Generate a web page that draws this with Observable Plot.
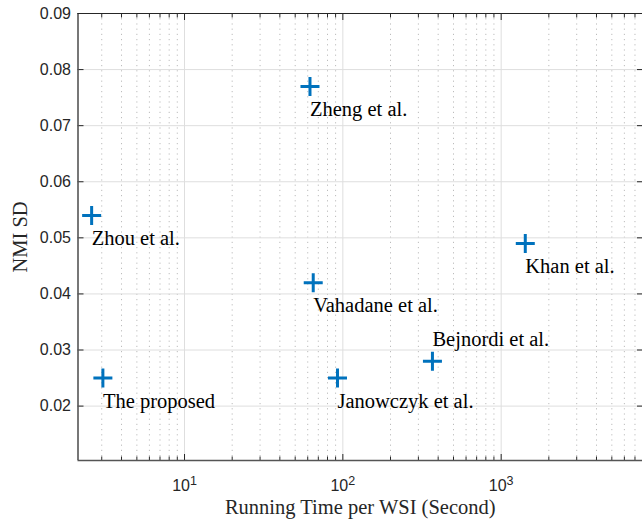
<!DOCTYPE html>
<html><head><meta charset="utf-8">
<script src="https://cdn.jsdelivr.net/npm/d3@7"></script>
<script src="https://cdn.jsdelivr.net/npm/@observablehq/plot@0.6"></script>
<style>body{margin:0;background:#fff}</style>
</head><body><div id="chart"></div>
<script>
const methods = ["Zhou et al.", "The proposed", "Zheng et al.", "Vahadane et al.", "Janowczyk et al.", "Bejnordi et al.", "Khan et al."];
const runningTime = [2.59, 3.05, 62, 65, 92.5, 368, 1420];
const nmiSD = [0.054, 0.025, 0.077, 0.042, 0.025, 0.028, 0.049];
const xTicks = [10, 100, 1000];
const xTickLabels = ["10^1", "10^2", "10^3"];
const yTicks = [0.02, 0.03, 0.04, 0.05, 0.06, 0.07, 0.08, 0.09];
const xTitle = "Running Time per WSI (Second)";
const yTitle = "NMI SD";

const data = methods.map((m, i) => ({name: m, t: runningTime[i], sd: nmiSD[i]}));
const labelAbove = new Set(["Bejnordi et al."]);
const xDomain = [2.124, 7810];
const minorTicks = [];
for (const p of [1, 10, 100, 1000]) for (let k = 2; k <= 9; k++) {
  const v = k * p; if (v > xDomain[0] && v < xDomain[1]) minorTicks.push(v);
}
const plusSymbol = {draw(ctx, size) { const r = Math.sqrt(size / Math.PI); ctx.moveTo(-r, 0); ctx.lineTo(r, 0); ctx.moveTo(0, -r); ctx.lineTo(0, r); }};
const sans = "Liberation Sans, Arial, sans-serif";
const serif = "Liberation Serif, Times New Roman, serif";
const axisCol = "#262626";

const chart = Plot.plot({
  width: 642, height: 520,
  marginLeft: 77.5, marginRight: 0, marginTop: 13, marginBottom: 60,
  x: {type: "log", domain: xDomain, label: null},
  y: {domain: [0.0103, 0.09], label: null},
  style: {fontFamily: sans, background: "#fff"},
  marks: [
    Plot.gridX(minorTicks, {stroke: "#bcbcbc", strokeOpacity: 1, strokeDasharray: "1.2,4"}),
    Plot.gridX(xTicks, {stroke: "#dedede", strokeOpacity: 1}),
    Plot.gridY(yTicks, {stroke: "#dedede", strokeOpacity: 1}),
    Plot.axisX(xTicks, {anchor: "bottom", label: null, tickSize: -6, tickFormat: () => "", stroke: axisCol}),
    Plot.axisX(xTicks, {anchor: "top", label: null, tickSize: -6, tickFormat: () => "", stroke: axisCol}),
    Plot.axisX(minorTicks, {anchor: "bottom", label: null, tickSize: -3.5, tickFormat: () => "", stroke: axisCol}),
    Plot.axisX(minorTicks, {anchor: "top", label: null, tickSize: -3.5, tickFormat: () => "", stroke: axisCol}),
    Plot.axisX(xTicks, {anchor: "bottom", tickSize: 0, tickPadding: 19, label: null, fontSize: 16, fill: axisCol, tickFormat: (d) => xTickLabels[xTicks.indexOf(d)]}),
    Plot.axisY(yTicks, {anchor: "left", label: null, tickSize: -6, tickFormat: () => "", stroke: axisCol}),
    Plot.axisY(yTicks, {anchor: "right", label: null, tickSize: -6, tickFormat: () => "", stroke: axisCol}),
    Plot.axisY(yTicks, {anchor: "left", tickSize: 0, tickPadding: 7, label: null, fontSize: 16, fill: axisCol, tickFormat: d3.format(".2f")}),
    Plot.ruleX([xDomain[0]], {stroke: "#555", strokeWidth: 1.6}),
    Plot.ruleY([0.0103], {stroke: "#555", strokeWidth: 1.6}),
    Plot.ruleY([0.09], {stroke: axisCol, strokeWidth: 1.2}),
    Plot.dot(data, {x: "t", y: "sd", symbol: plusSymbol, r: 9.5, fill: "none", stroke: "#0072BD", strokeWidth: 3}),
    Plot.text(data.filter(d => !labelAbove.has(d.name)), {x: "t", y: "sd", text: "name", dy: 23, textAnchor: "start", fontFamily: serif, fontSize: 20.5, fill: "#000"}),
    Plot.text(data.filter(d => labelAbove.has(d.name)), {x: "t", y: "sd", text: "name", dy: -22, textAnchor: "start", fontFamily: serif, fontSize: 20.5, fill: "#000"}),
    Plot.text([xTitle], {frameAnchor: "bottom", text: d => d, dy: 47, textAnchor: "middle", lineAnchor: "middle", fontFamily: serif, fontSize: 20.5, fill: axisCol}),
    Plot.text([yTitle], {frameAnchor: "left", text: d => d, dx: -57.5, rotate: -90, textAnchor: "middle", lineAnchor: "middle", fontFamily: serif, fontSize: 20.5, fill: axisCol})
  ]
});
document.getElementById("chart").appendChild(chart);
// render superscripts in x tick labels
d3.select(chart).selectAll('g[aria-label="x-axis tick label"] text').each(function() {
  const s = this.textContent;
  if (!s.includes("^")) return;
  const [base, exp] = s.split("^");
  const t = d3.select(this);
  t.text(null);
  t.append("tspan").text(base);
  t.append("tspan").attr("dy", "-0.5em").attr("font-size", "12.5px").text(exp);
});
</script>
</body></html>
